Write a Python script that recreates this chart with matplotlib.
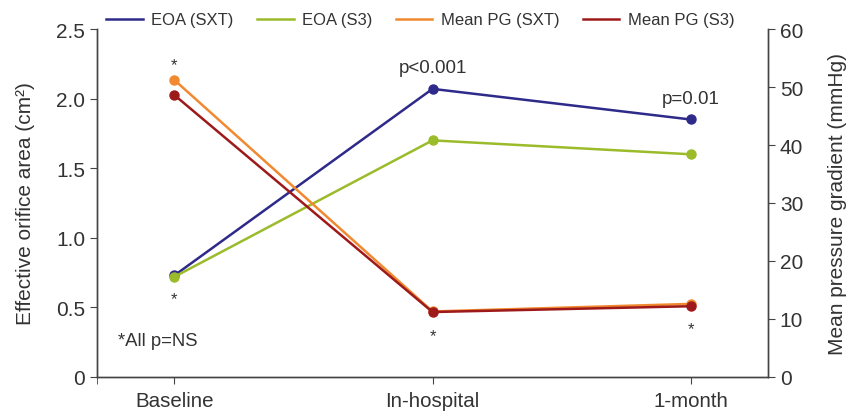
import numpy as np
import matplotlib.pyplot as plt

plt.rcParams['font.family'] = ['Liberation Sans', 'DejaVu Sans']

timepoints = ["Baseline", "In-hospital", "1-month"]
eoa_sxt = [0.73, 2.07, 1.85]
eoa_s3 = [0.72, 1.70, 1.60]
pg_sxt = [51.2, 11.3, 12.6]
pg_s3 = [48.6, 11.2, 12.2]

c_sxt = "#2E2A8A"
c_s3 = "#9BBB2A"
c_pg_sxt = "#F0892F"
c_pg_s3 = "#9E1A1A"
txt = "#333333"

fig = plt.figure(figsize=(8.51, 4.14), dpi=100)
ax = fig.add_axes([0.114, 0.087, 0.7885, 0.8405])
ax2 = ax.twinx()

x = np.arange(len(timepoints))
kw = dict(lw=1.8, marker="o", ms=6.5)
l1, = ax.plot(x, eoa_sxt, color=c_sxt, label="EOA (SXT)", **kw)
l2, = ax.plot(x, eoa_s3, color=c_s3, label="EOA (S3)", **kw)
l3, = ax2.plot(x, pg_sxt, color=c_pg_sxt, label="Mean PG (SXT)", **kw)
l4, = ax2.plot(x, pg_s3, color=c_pg_s3, label="Mean PG (S3)", **kw)

ax.set_xlim(-0.3, 2.3)
ax.set_ylim(0, 2.5)
ax2.set_ylim(0, 60)
ax.set_yticks([0, 0.5, 1.0, 1.5, 2.0, 2.5])
ax.set_yticklabels(["0", "0.5", "1.0", "1.5", "2.0", "2.5"])
ax2.set_yticks(range(0, 61, 10))
ax.set_xticks(x)
ax.set_xticklabels(timepoints)
ax.set_xticks([-0.3], minor=True)

for a in (ax, ax2):
    a.spines["top"].set_visible(False)
    for s in a.spines.values():
        s.set_color("#444444")
        s.set_linewidth(1.0)
    a.tick_params(axis="both", which="both", direction="out", length=5,
                  colors="#444444", labelcolor=txt, labelsize=15)
ax.tick_params(axis="x", labelsize=14.8, pad=5)
ax.tick_params(axis="x", which="minor", length=5)

ax.set_ylabel("Effective orifice area (cm²)", fontsize=15, color=txt, labelpad=15)
ax2.set_ylabel("Mean pressure gradient (mmHg)", fontsize=15, color=txt, labelpad=18)

# annotations
ax2.text(0, 52.6, "*", ha="center", va="bottom", fontsize=12, color=txt)
ax.text(0, 0.62, "*", ha="center", va="top", fontsize=12, color=txt)
ax.text(1, 0.35, "*", ha="center", va="top", fontsize=12, color=txt)
ax.text(2, 0.40, "*", ha="center", va="top", fontsize=12, color=txt)
ax.text(1, 2.16, "p<0.001", ha="center", va="bottom", fontsize=13.5, color=txt)
ax.text(2, 1.94, "p=0.01", ha="center", va="bottom", fontsize=13.5, color=txt)
ax.text(-0.22, 0.26, "*All p=NS", ha="left", va="center", fontsize=13.3, color=txt)

fig.legend(handles=[l1, l2, l3, l4], loc="upper center", bbox_to_anchor=(0.494, 1.004),
           ncol=4, frameon=False, fontsize=12, handlelength=2.2, columnspacing=1.4,
           handletextpad=0.5, labelcolor=txt)
for h in fig.legends[0].legend_handles:
    h.set_marker("")

fig.savefig("out.png", dpi=100)
